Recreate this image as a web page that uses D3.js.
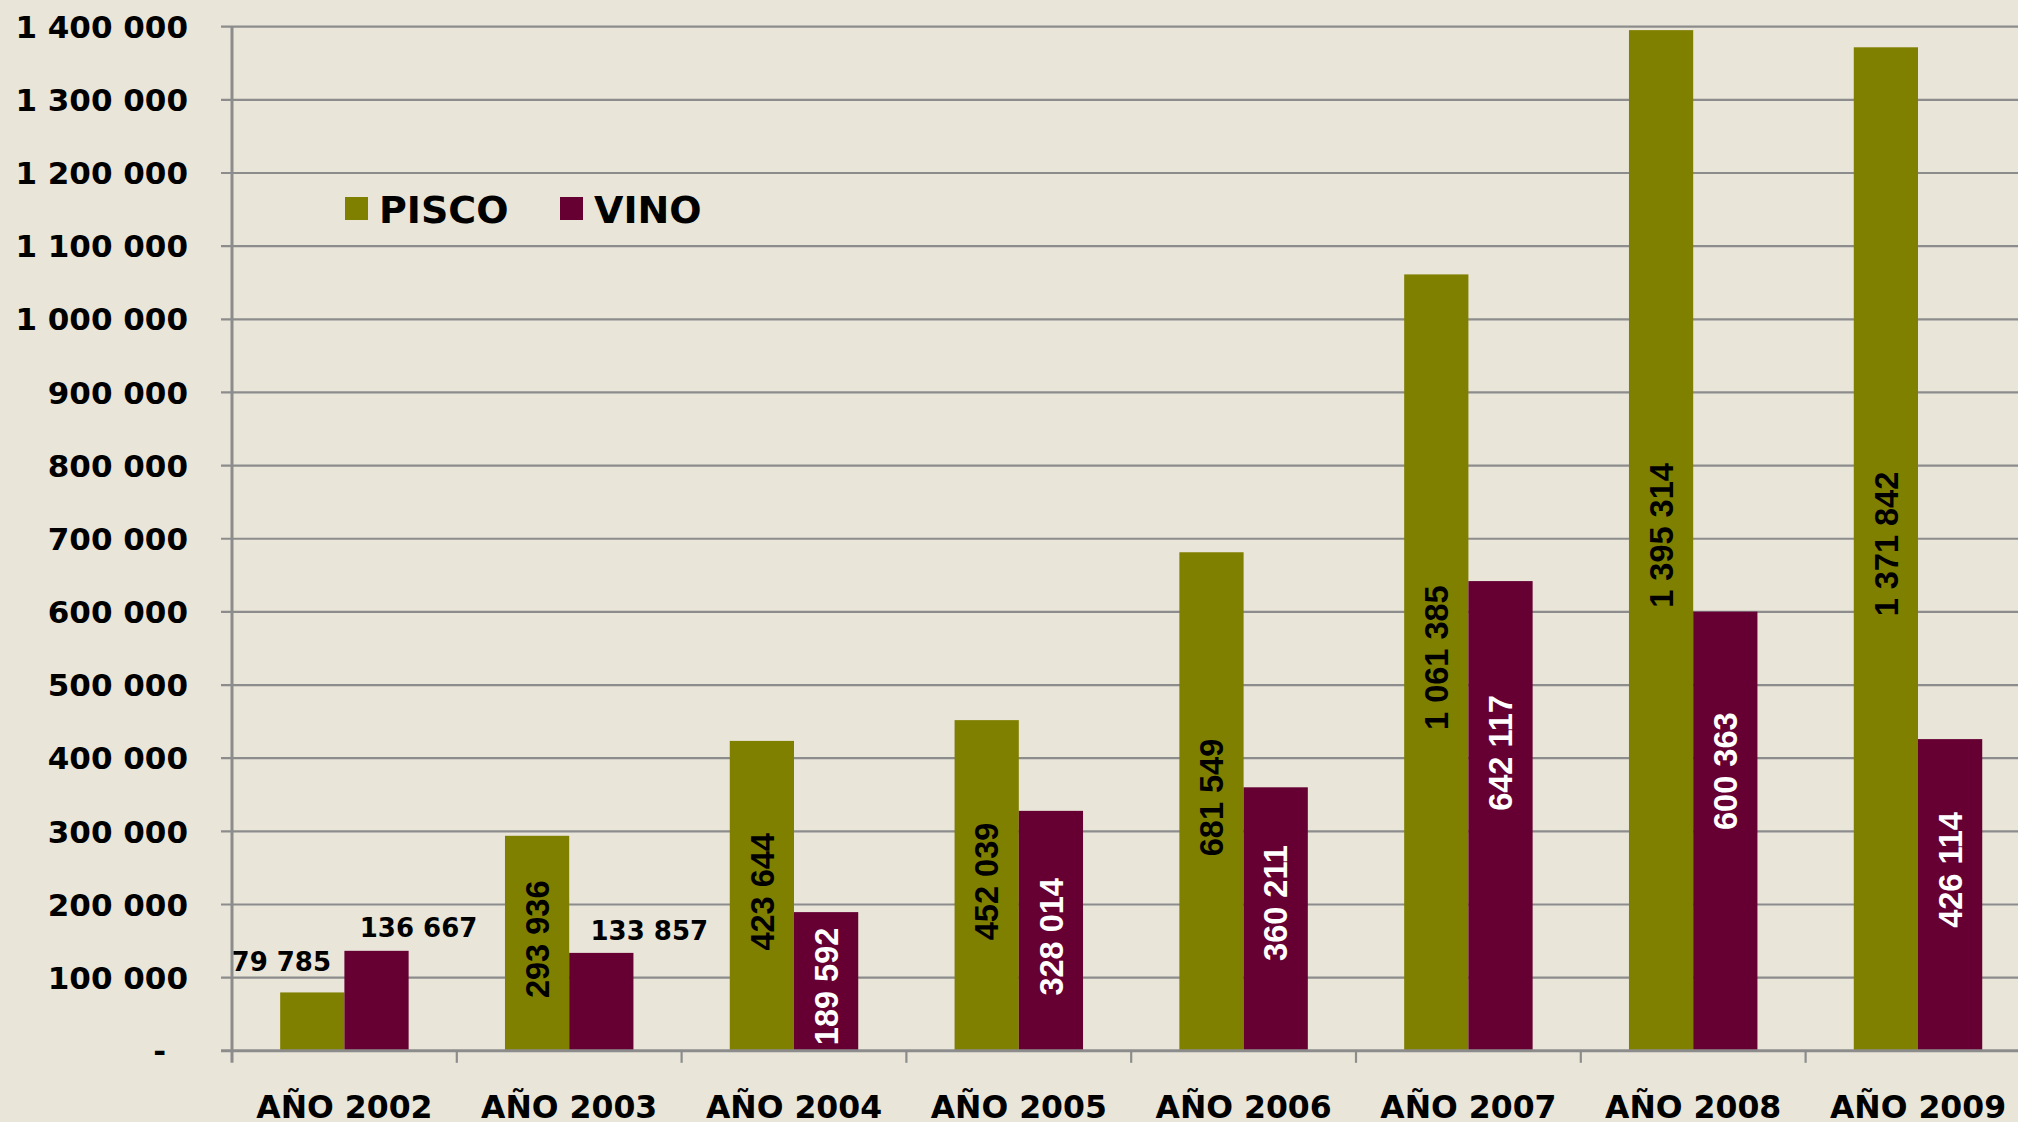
<!DOCTYPE html>
<html>
<head>
<meta charset="utf-8">
<script src="https://cdn.jsdelivr.net/npm/d3@7"></script>
<style>
  html, body { margin: 0; padding: 0; background: #e9e5d9; }
  svg { display: block; }
  text { font-family: "DejaVu Sans", Verdana, sans-serif; font-weight: bold; }
  text.rot { font-family: "Liberation Sans", Arial, sans-serif; font-weight: bold; }
</style>
</head>
<body>
<script>
// data
var years = ["AÑO 2002", "AÑO 2003", "AÑO 2004", "AÑO 2005", "AÑO 2006", "AÑO 2007", "AÑO 2008", "AÑO 2009"];
var pisco = [79785, 293936, 423644, 452039, 681549, 1061385, 1395314, 1371842];
var vino = [136667, 133857, 189592, 328014, 360211, 642117, 600363, 426114];
var seriesNames = ["PISCO", "VINO"];
var yTicks = [0, 100000, 200000, 300000, 400000, 500000, 600000, 700000, 800000, 900000, 1000000, 1100000, 1200000, 1300000, 1400000];

var colors = { PISCO: "#808000", VINO: "#660033" };
var labelColors = { PISCO: "#000", VINO: "#fff" };

// a few labels were moved by hand in the original and sit flat above the bar
var flatLabels = { "PISCO-0": [-31, -21], "VINO-0": [42, -14], "VINO-1": [48, -13] };
// vertical shift of the rotated labels from the bar middle (px)
var rotShift = {
  PISCO: [0, -4, -4, -4, -4, -5, -5, -5],
  VINO: [0, 0, 5, 6, -16, -63, -60, -25]
};

var W = 2018, H = 1122;
var plotLeft = 232, plotTop = 26.7, plotBottom = 1050.8, plotRight = 232 + 8 * 224.8;

var svg = d3.select("body").append("svg")
  .attr("width", W).attr("height", H);

svg.append("rect").attr("width", W).attr("height", H).attr("fill", "#e9e5d9");

var y = d3.scaleLinear().domain([0, 1400000]).range([plotBottom, plotTop]);
var x0 = d3.scaleBand().domain(years).range([plotLeft, plotRight]);
var x1 = d3.scaleBand().domain(seriesNames).range([0, x0.bandwidth()]).paddingOuter(0.75);

function fmt(v) {
  return d3.format(",")(v).replace(/,/g, " ");
}

// gridlines
svg.append("g").selectAll("line")
  .data(yTicks.slice(1))
  .enter().append("line")
  .attr("x1", plotLeft - 11).attr("x2", W)
  .attr("y1", function (d) { return y(d); })
  .attr("y2", function (d) { return y(d); })
  .attr("stroke", "#8c8c8c").attr("stroke-width", 2.2);

// y labels
svg.append("g").selectAll("text")
  .data(yTicks)
  .enter().append("text")
  .attr("x", function (d) { return d === 0 ? 166 : 188; })
  .attr("y", function (d) { return y(d); })
  .attr("dy", "0.36em")
  .attr("text-anchor", "end")
  .attr("font-size", 31)
  .attr("fill", "#000")
  .text(function (d) { return d === 0 ? "-" : fmt(d); });

// bars
var rows = years.map(function (yr, i) {
  return [
    { year: yr, i: i, s: "PISCO", v: pisco[i] },
    { year: yr, i: i, s: "VINO", v: vino[i] }
  ];
});

var groups = svg.append("g").selectAll("g")
  .data(rows)
  .enter().append("g")
  .attr("transform", function (d) { return "translate(" + x0(d[0].year) + ",0)"; });

groups.selectAll("rect")
  .data(function (d) { return d; })
  .enter().append("rect")
  .attr("x", function (d) { return x1(d.s); })
  .attr("width", x1.bandwidth())
  .attr("y", function (d) { return y(d.v); })
  .attr("height", function (d) { return plotBottom - y(d.v); })
  .attr("fill", function (d) { return colors[d.s]; });

// axes lines
svg.append("line")
  .attr("x1", plotLeft).attr("x2", plotLeft)
  .attr("y1", plotTop).attr("y2", plotBottom + 12)
  .attr("stroke", "#8c8c8c").attr("stroke-width", 3);

svg.append("line")
  .attr("x1", plotLeft - 11).attr("x2", W)
  .attr("y1", plotBottom).attr("y2", plotBottom)
  .attr("stroke", "#8c8c8c").attr("stroke-width", 3);

svg.append("g").selectAll("line")
  .data(years.slice(1))
  .enter().append("line")
  .attr("x1", function (d) { return x0(d); })
  .attr("x2", function (d) { return x0(d); })
  .attr("y1", plotBottom).attr("y2", plotBottom + 12)
  .attr("stroke", "#8c8c8c").attr("stroke-width", 2.2);

// x labels
svg.append("g").selectAll("text")
  .data(years)
  .enter().append("text")
  .attr("x", function (d) { return x0(d) + x0.bandwidth() / 2; })
  .attr("y", 1118)
  .attr("text-anchor", "middle")
  .attr("font-size", 31.5)
  .attr("fill", "#000")
  .text(function (d) { return d; });

// data labels
groups.selectAll("text")
  .data(function (d) { return d; })
  .enter().append("text")
  .attr("class", function (d) { return flatLabels[d.s + "-" + d.i] ? "flat" : "rot"; })
  .attr("font-size", function (d) { return flatLabels[d.s + "-" + d.i] ? 26 : 32.5; })
  .attr("text-anchor", "middle")
  .attr("fill", function (d) {
    return flatLabels[d.s + "-" + d.i] ? "#000" : labelColors[d.s];
  })
  .attr("transform", function (d) {
    var cx = x1(d.s) + x1.bandwidth() / 2;
    var nudge = flatLabels[d.s + "-" + d.i];
    if (nudge) {
      return "translate(" + (cx + nudge[0]) + "," + (y(d.v) + nudge[1]) + ")";
    }
    var cy = (y(d.v) + plotBottom) / 2 + rotShift[d.s][d.i];
    return "translate(" + cx + "," + cy + ") rotate(-90)";
  })
  .attr("dy", function (d) { return flatLabels[d.s + "-" + d.i] ? 0 : "0.36em"; })
  .text(function (d) { return fmt(d.v); });

// legend
var legend = svg.append("g").selectAll("g")
  .data(seriesNames)
  .enter().append("g")
  .attr("transform", function (d, i) { return "translate(" + (345 + i * 215) + ",197)"; });

legend.append("rect")
  .attr("width", 23).attr("height", 23)
  .attr("fill", function (d) { return colors[d]; });

legend.append("text")
  .attr("x", 34).attr("y", 25.5)
  .attr("font-size", 38)
  .attr("fill", "#000")
  .text(function (d) { return d; });
</script>
</body>
</html>
